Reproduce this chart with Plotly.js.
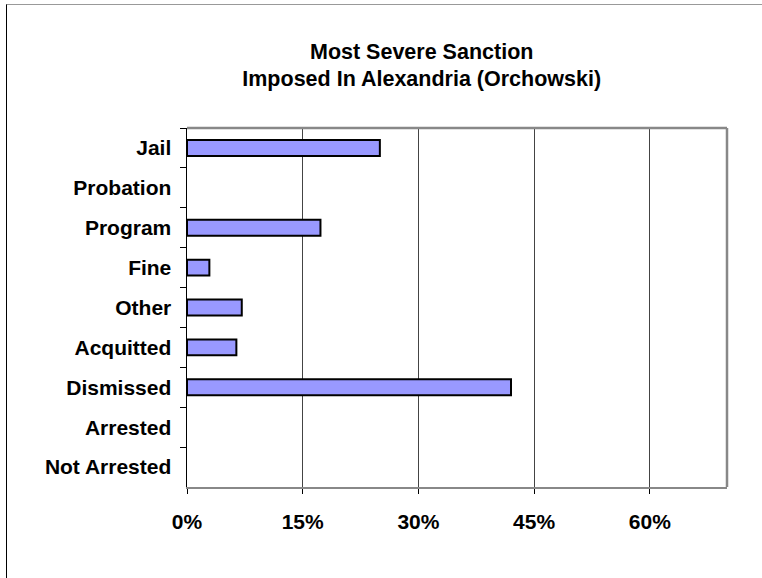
<!DOCTYPE html>
<html>
<head>
<meta charset="utf-8">
<script src="https://cdn.plot.ly/plotly-3.0.1.min.js"></script>
<style>
  html, body { margin: 0; padding: 0; background: #fff; }
  #wrap { position: relative; width: 762px; height: 578px; overflow: hidden; }
  #chart { position: absolute; left: 0; top: 0; width: 762px; height: 578px; }
  #frame { position: absolute; left: 6px; top: 4px; width: 800px; height: 600px;
           border-left: 1px solid #000; border-top: 1px solid #999; pointer-events: none; }
</style>
</head>
<body>
<div id="wrap">
  <div id="chart"></div>
  <div id="frame"></div>
</div>
<script>
const categories = ["Jail", "Probation", "Program", "Fine", "Other", "Acquitted", "Dismissed", "Arrested", "Not Arrested"];
const percentValues = [25, 0, 17.3, 2.9, 7.1, 6.4, 42, 0, 0];
const xTickValues = [0, 15, 30, 45, 60];
const xTickLabels = ["0%", "15%", "30%", "45%", "60%"];

const font = "Liberation Sans, Arial, Helvetica, sans-serif";

const trace = {
  type: "bar",
  orientation: "h",
  y: categories,
  x: percentValues,
  marker: {
    color: "#9999FF",
    line: { color: "#000", width: percentValues.map(v => (v > 0 ? 2 : 0)) }
  },
  hoverinfo: "none"
};

const layout = {
  width: 762,
  height: 578,
  margin: { l: 187, r: 35, t: 128, b: 91 },
  paper_bgcolor: "#fff",
  plot_bgcolor: "#fff",
  showlegend: false,
  bargap: 0.6,
  title: {
    text: "<b>Most Severe Sanction<br>Imposed In Alexandria (Orchowski)</b>",
    font: { family: font, size: 21.5, color: "#000" },
    x: 421.7 / 762, xref: "container", xanchor: "center",
    y: 1 - 58.5 / 578, yref: "container", yanchor: "middle"
  },
  xaxis: {
    range: [0, 70],
    tickvals: xTickValues,
    ticktext: xTickLabels,
    ticks: "outside",
    ticklen: 5,
    tickwidth: 1,
    tickcolor: "#000",
    showgrid: true,
    gridcolor: "#444",
    gridwidth: 1,
    zeroline: false,
    showline: true,
    linecolor: "#888",
    linewidth: 2,
    ticklabelstandoff: 10,
    tickfont: { family: font, size: 21, color: "#000", weight: "bold" },
    fixedrange: true
  },
  yaxis: {
    type: "category",
    categoryorder: "array",
    categoryarray: categories,
    autorange: "reversed",
    tickson: "boundaries",
    ticks: "outside",
    ticklen: 6,
    tickwidth: 1,
    tickcolor: "#000",
    showgrid: false,
    zeroline: false,
    showline: true,
    linecolor: "#000",
    linewidth: 1.5,
    ticklabelstandoff: 10,
    tickfont: { family: font, size: 21, color: "#000", weight: "bold" },
    fixedrange: true
  },
  shapes: [
    { type: "line", xref: "paper", yref: "paper", x0: 0, x1: 1, y0: 1, y1: 1,
      line: { color: "#888", width: 2.5 }, layer: "above" },
    { type: "line", xref: "paper", yref: "paper", x0: 1, x1: 1, y0: 0, y1: 1,
      line: { color: "#888", width: 2.5 }, layer: "above" }
  ]
};

Plotly.newPlot("chart", [trace], layout, { staticPlot: true, displayModeBar: false });
</script>
</body>
</html>
